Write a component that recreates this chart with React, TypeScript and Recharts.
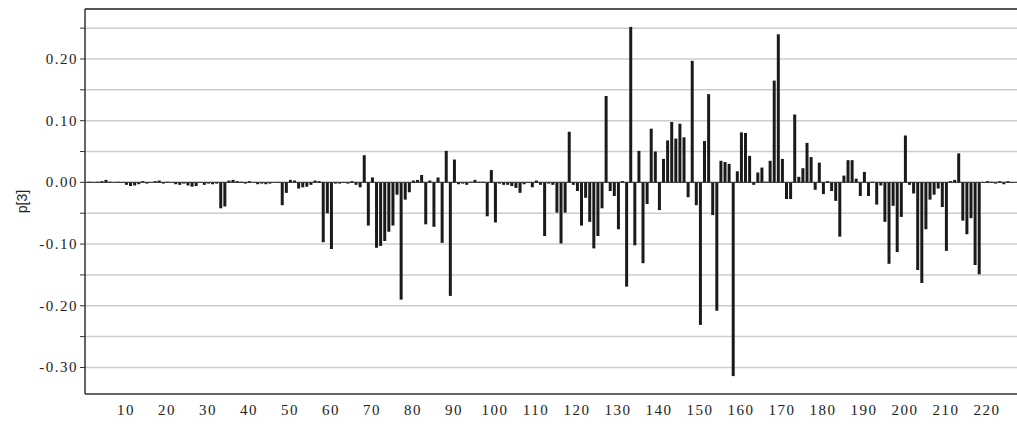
import {Bar, BarChart, CartesianGrid, ReferenceLine, XAxis, YAxis} from 'recharts';

// loading p[3] per variable (variables 1..226)
const p3 = [
    0.001, -0.001, 0.001, 0.002, 0.004, 0.001, 0.000, 0.001, -0.001, -0.004,
    -0.006, -0.005, -0.003, 0.002, -0.002, 0.000, 0.002, 0.003, -0.002, 0.001,
    0.000, -0.003, -0.004, -0.002, -0.005, -0.007, -0.006, -0.001, -0.004, -0.002,
    -0.003, -0.002, -0.042, -0.039, 0.003, 0.004, 0.002, 0.001, -0.002, 0.002,
    0.000, -0.003, -0.002, -0.003, -0.002, 0.000, -0.001, -0.037, -0.017, 0.004,
    0.003, -0.010, -0.008, -0.007, -0.004, 0.003, 0.002, -0.097, -0.050, -0.108,
    -0.002, -0.002, -0.001, -0.002, 0.002, -0.004, -0.008, 0.044, -0.070, 0.008,
    -0.106, -0.103, -0.095, -0.080, -0.070, -0.020, -0.190, -0.028, -0.016, 0.003,
    0.004, 0.012, -0.068, 0.003, -0.072, 0.008, -0.098, 0.051, -0.184, 0.037,
    -0.003, -0.002, -0.004, 0.001, 0.004, 0.001, 0.001, -0.055, 0.020, -0.065,
    -0.002, -0.004, -0.004, -0.006, -0.009, -0.017, -0.003, -0.001, -0.008, 0.003,
    -0.004, -0.087, -0.002, -0.004, -0.049, -0.099, -0.049, 0.082, -0.004, -0.014,
    -0.070, -0.025, -0.064, -0.107, -0.087, -0.042, 0.140, -0.014, -0.022, -0.076,
    0.002, -0.169, 0.252, -0.102, 0.051, -0.131, -0.035, 0.087, 0.050, -0.045,
    0.038, 0.068, 0.098, 0.071, 0.095, 0.073, -0.024, 0.197, -0.037, -0.231,
    0.067, 0.143, -0.053, -0.208, 0.035, 0.033, 0.030, -0.314, 0.018, 0.081,
    0.080, 0.043, -0.004, 0.016, 0.024, 0.001, 0.035, 0.165, 0.240, 0.038,
    -0.027, -0.027, 0.110, 0.009, 0.023, 0.064, 0.041, -0.012, 0.032, -0.019,
    0.002, -0.014, -0.030, -0.088, 0.011, 0.036, 0.036, 0.006, -0.022, 0.017,
    -0.022, 0.001, -0.036, -0.005, -0.064, -0.132, -0.038, -0.113, -0.056, 0.076,
    -0.004, -0.018, -0.142, -0.163, -0.076, -0.028, -0.020, -0.010, -0.040, -0.111,
    0.002, 0.004, 0.047, -0.062, -0.084, -0.058, -0.134, -0.149, -0.001, 0.002,
    0.001, -0.002, 0.002, -0.003, 0.002, -0.001,
];

const xTicks = [10, 20, 30, 40, 50, 60, 70, 80, 90, 100, 110, 120, 130, 140, 150, 160, 170, 180, 190, 200, 210, 220];
const yTicks = [-0.30, -0.25, -0.20, -0.15, -0.10, -0.05, 0, 0.05, 0.10, 0.15, 0.20, 0.25];
const Y_MIN = -0.343;
const Y_MAX = 0.281;

const data = p3.map((v, k) => ({i: k + 1, p3: v}));

const serif = {fontFamily: '"Liberation Serif", "DejaVu Serif", serif', fontSize: 15, fill: '#222', letterSpacing: '1.5px'};

const formatY = (v: number) => (Math.round(Math.abs(v) * 100) % 10 === 0 ? v.toFixed(2) : '');

function XTick({x, y, payload}: any) {
    return (
        <text x={x} y={y + 21} textAnchor="middle" style={serif}>{payload.value}</text>
    );
}

function YTick({x, y, payload}: any) {
    const s = formatY(payload.value);
    if (!s) return null;
    return (
        <text x={x} y={y} dy={5} textAnchor="end" style={serif}>{s}</text>
    );
}

function YLabel({viewBox}: any) {
    const x = viewBox.x + 22;
    const y = viewBox.y + viewBox.height / 2;
    return (
        <text x={x} y={y} transform={`rotate(-90 ${x} ${y})`} textAnchor="middle" dominantBaseline="central"
              style={{fontFamily: '"Liberation Sans", sans-serif', fontSize: 14, fill: '#222'}}>
            p[3]
        </text>
    );
}

export default function App() {
    return (
        <div style={{position: 'absolute', left: 0, top: 0, width: 1017, height: 424, overflow: 'hidden', background: '#fff'}}>
            <BarChart width={1030} height={424} data={data} margin={{top: 9, right: 0, bottom: 0, left: 0}}>
                <CartesianGrid horizontal vertical={false} stroke="#cccccc" strokeWidth={1.5} horizontalValues={yTicks}/>
                <XAxis dataKey="i" type="number" domain={[0, 230.5]} ticks={xTicks} height={30}
                       tickLine={false} tickSize={0} tickMargin={0} tick={<XTick/>}
                       axisLine={{stroke: '#333', strokeWidth: 1.5}} allowDataOverflow/>
                <YAxis type="number" domain={[Y_MIN, Y_MAX]} ticks={yTicks} width={85} interval={0}
                       tick={<YTick/>} tickSize={5} tickMargin={2}
                       tickLine={{stroke: '#333'}} axisLine={{stroke: '#333', strokeWidth: 1.5}}
                       allowDataOverflow label={<YLabel/>}/>
                <ReferenceLine y={Y_MAX} stroke="#555" strokeWidth={2} ifOverflow="visible"/>
                <ReferenceLine y={0} stroke="#333" strokeWidth={1}/>
                <Bar dataKey="p3" fill="#1a1a1a" barSize={3} isAnimationActive={false}/>
            </BarChart>
        </div>
    );
}
